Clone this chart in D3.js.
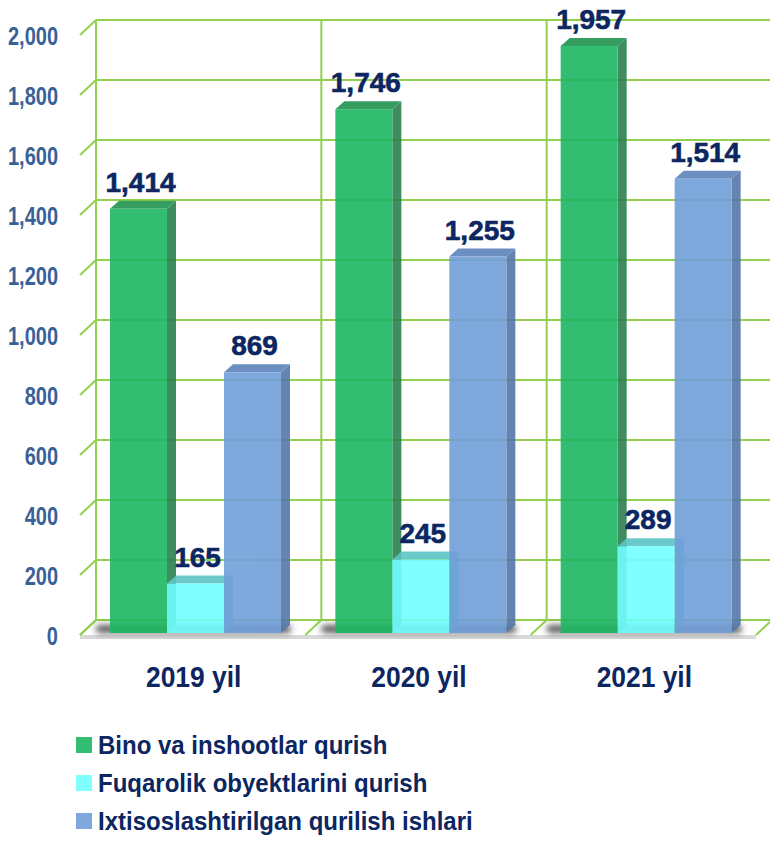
<!DOCTYPE html>
<html>
<head>
<meta charset="utf-8">
<script src="https://cdn.jsdelivr.net/npm/d3@7"></script>
<style>
  body { margin: 0; background: #fff; }
  svg { display: block; }
</style>
</head>
<body>
<div id="chart"></div>
<script>
// data
const years = ["2019 yil", "2020 yil", "2021 yil"];
const series = ["Bino va inshootlar qurish", "Fuqarolik obyektlarini qurish", "Ixtisoslashtirilgan qurilish ishlari"];
const bino = [1414, 1746, 1957];
const fuqarolik = [165, 245, 289];
const ixtisos = [869, 1255, 1514];
const yTicks = [0, 200, 400, 600, 800, 1000, 1200, 1400, 1600, 1800, 2000];

const values = [bino, fuqarolik, ixtisos];
const fronts = ["#1CB662", "#72FFFF", "#719ED8"];
const tops = ["#21934F", "#5CC4C4", "#5C83BA"];
const sides = ["#2B8050", "#4AD4D2", "#5577A8"];
const legendColors = ["#33BD72", "#80FFFF", "#7FA8DC"];

const W = 770, H = 841;
const font = "'Liberation Sans', Arial, sans-serif";
const navy = "#0B2660";

const svg = d3.select("#chart").append("svg")
    .attr("width", W).attr("height", H);

const defs = svg.append("defs");
defs.append("filter").attr("id", "blur")
    .attr("x", "-20%").attr("y", "-100%").attr("width", "140%").attr("height", "300%")
    .append("feGaussianBlur").attr("stdDeviation", 3);

// no narrow font installed, so squeeze text horizontally
function squeezed(px, py, sx) {
    return svg.append("text")
        .attr("transform", `translate(${px},${py}) scale(${sx},1)`);
}

// back wall scale
const y = d3.scaleLinear().domain([0, 2000]).range([620, 20]);
const x = d3.scaleBand().domain(years).range([96, 772]);
const inner = d3.scaleBand().domain(series).range([14, 185]);

// depth of the grid box and of bars
const gdx = 16, gdy = 15;
const bdx = 9, bdy = 8;
const barShift = 13; // bars sit in front of back wall

const grid = "#92D050";

// floor
const x0 = x.range()[0], x1 = x.range()[1];
svg.append("path")
    .attr("d", `M${x0},${y(0)} L${x1},${y(0)} L${x1 - gdx},${y(0) + gdy} L${x0 - gdx},${y(0) + gdy} Z`)
    .attr("fill", "#fff");
svg.append("rect")
    .attr("x", x0 - gdx).attr("y", y(0) + gdy)
    .attr("width", x1 - x0).attr("height", 4)
    .attr("fill", "#D9D9D9");

// horizontal grid lines + left diagonals
yTicks.forEach(t => {
    svg.append("line")
        .attr("x1", x0).attr("x2", x1)
        .attr("y1", y(t)).attr("y2", y(t))
        .attr("stroke", grid).attr("stroke-width", 2);
    svg.append("line")
        .attr("x1", x0 - gdx).attr("x2", x0)
        .attr("y1", y(t) + gdy).attr("y2", y(t))
        .attr("stroke", grid).attr("stroke-width", 2);
});

// vertical grid lines + floor diagonals
const vx = years.map(d => x(d)).concat([x1]);
vx.forEach(v => {
    svg.append("line")
        .attr("x1", v).attr("x2", v)
        .attr("y1", y(2000)).attr("y2", y(0))
        .attr("stroke", grid).attr("stroke-width", 2);
    svg.append("line")
        .attr("x1", v - gdx).attr("x2", v)
        .attr("y1", y(0) + gdy).attr("y2", y(0))
        .attr("stroke", grid).attr("stroke-width", 2);
});

// shadows under bars
years.forEach(yr => {
    svg.append("rect")
        .attr("x", x(yr) + inner.range()[0] - 14)
        .attr("y", y(0) + 5)
        .attr("width", inner.range()[1] - inner.range()[0] + 24)
        .attr("height", 8)
        .attr("rx", 4)
        .attr("fill", "#222")
        .attr("opacity", 0.75)
        .attr("filter", "url(#blur)");
});

// bars
const bw = inner.bandwidth();
years.forEach((yr, i) => {
    series.forEach((s, j) => {
        const v = values[j][i];
        const bx = x(yr) + inner(s);
        const yt = y(v) + barShift;
        const yb = y(0) + barShift;
        const g = svg.append("g").attr("opacity", 0.9);
        // side
        g.append("path")
            .attr("d", `M${bx + bw},${yt} L${bx + bw + bdx},${yt - bdy} L${bx + bw + bdx},${yb - bdy} L${bx + bw},${yb} Z`)
            .attr("fill", sides[j]);
        // top
        g.append("path")
            .attr("d", `M${bx},${yt} L${bx + bdx},${yt - bdy} L${bx + bw + bdx},${yt - bdy} L${bx + bw},${yt} Z`)
            .attr("fill", tops[j]);
        // front
        g.append("rect")
            .attr("x", bx).attr("y", yt)
            .attr("width", bw).attr("height", yb - yt)
            .attr("fill", fronts[j]);
    });
});

// value labels
years.forEach((yr, i) => {
    series.forEach((s, j) => {
        const v = values[j][i];
        svg.append("text")
            .attr("x", x(yr) + inner(s) + bw / 2 + 2)
            .attr("y", y(v) + barShift - bdy - 9)
            .attr("text-anchor", "middle")
            .style("font", `bold 28px ${font}`)
            .style("fill", navy)
            .style("stroke", navy)
            .style("stroke-width", 0.6)
            .text(d3.format(",")(v));
    });
});

// y axis labels
yTicks.forEach(t => {
    squeezed(58, y(t) + gdy + 1, 0.8)
        .attr("dy", "0.35em")
        .attr("text-anchor", "end")
        .style("font", `bold 25px ${font}`)
        .style("fill", "#3A6098")
        .text(d3.format(",")(t));
});

// x axis labels
years.forEach(yr => {
    squeezed(x(yr) + x.bandwidth() / 2 - gdx + 1, 687, 0.88)
        .attr("text-anchor", "middle")
        .style("font", `bold 30px ${font}`)
        .style("fill", navy)
        .text(yr);
});

// legend
series.forEach((s, j) => {
    const ly = 745 + j * 38;
    svg.append("rect")
        .attr("x", 76).attr("y", ly - 8)
        .attr("width", 16).attr("height", 16)
        .attr("fill", legendColors[j]);
    squeezed(98, ly, 0.96)
        .attr("dy", "0.35em")
        .style("font", `bold 25px ${font}`)
        .style("fill", navy)
        .text(s);
});
</script>
</body>
</html>
